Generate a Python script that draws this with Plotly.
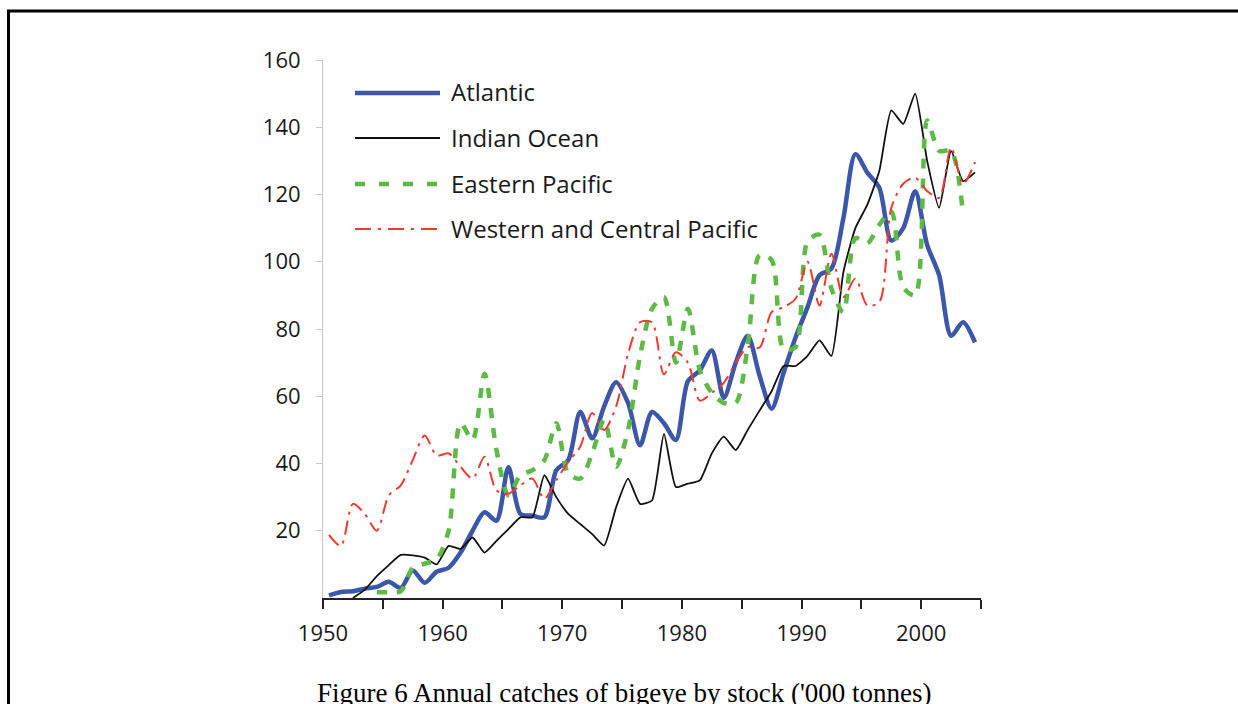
import plotly.graph_objects as go

# Annual bigeye catches by stock ('000 tonnes), 1950-2004
YEARS = list(range(1950, 2005))

ATLANTIC = [
    0.8, 1.8, 2.0, 2.8, 3.3, 4.8, 3.0, 8.2, 4.5, 7.8,
    9.0, 13.5, 20.0, 25.5, 23.0, 38.9, 25.0, 24.5, 24.0, 38.0,
    41.0, 55.3, 47.5, 57.0, 64.2, 58.0, 45.4, 55.3, 52.0, 47.0,
    64.5, 67.7, 73.6, 59.5, 70.0, 78.0, 66.0, 56.3, 67.0, 77.5,
    86.5, 96.0, 98.0, 113.0, 132.0, 126.5, 122.0, 106.3, 110.0, 121.0,
    105.0, 96.0, 78.0, 82.0, 76.0,
]

INDIAN_OCEAN = [
    None, None, 0.0, 2.5, 6.5, 9.8, 12.8, 12.7, 12.0, 10.0,
    15.5, 14.6, 18.0, 13.5, 17.0, 20.5, 24.0, 24.0, 36.5, 30.0,
    25.0, 22.0, 19.0, 15.6, 27.0, 35.5, 28.0, 29.0, 48.8, 33.0,
    34.0, 35.0, 43.0, 48.0, 44.0, 50.0, 55.8, 61.5, 69.0, 69.0,
    72.0, 76.6, 72.0, 97.0, 110.0, 117.0, 127.0, 145.0, 141.0, 150.0,
    130.0, 116.0, 133.0, 124.0, 126.6,
]

EASTERN_PACIFIC = [
    None, None, None, None, 1.7, 1.7, 2.0, 9.0, 10.2, 11.5,
    20.0, 52.0, 47.0, 66.7, 44.0, 30.5, 36.5, 38.0, 41.0, 52.0,
    37.0, 35.5, 43.0, 53.0, 39.0, 50.0, 72.0, 86.0, 89.5, 70.0,
    86.0, 67.7, 61.0, 58.0, 58.0, 75.0, 102.0, 100.5, 74.0, 74.6,
    106.0, 108.0, 92.0, 85.0, 107.0, 105.5, 111.0, 115.0, 92.4, 90.0,
    142.0, 133.0, 133.0, 114.0, None,
]

WESTERN_CENTRAL_PACIFIC = [
    18.8, 15.5, 28.0, 25.0, 20.0, 30.5, 33.5, 41.0, 48.3, 42.4,
    43.0, 39.0, 35.5, 42.0, 32.0, 31.0, 33.5, 35.5, 29.5, 35.0,
    40.5, 45.0, 55.0, 50.0, 57.0, 72.6, 82.0, 82.0, 66.5, 73.1,
    70.0, 58.7, 61.0, 64.0, 70.0, 74.6, 74.5, 85.0, 86.5, 89.0,
    100.0, 87.0, 102.4, 89.5, 95.0, 87.0, 88.0, 116.0, 123.2, 125.0,
    121.0, 119.0, 134.0, 123.2, 129.6,
]

SERIES_NAMES = ["Atlantic", "Indian Ocean", "Eastern Pacific", "Western and Central Pacific"]

X_TICKS = [1950, 1955, 1960, 1965, 1970, 1975, 1980, 1985, 1990, 1995, 2000, 2005]
X_TICK_LABELS = ["1950", "", "1960", "", "1970", "", "1980", "", "1990", "", "2000", ""]
Y_TICKS = [20, 40, 60, 80, 100, 120, 140, 160]
Y_TICK_LABELS = ["20", "40", "60", "80", "100", "120", "140", "160"]

CAPTION = "Figure 6 Annual catches of bigeye by stock ('000 tonnes)"

# page geometry
W, H = 1238, 704
ML, MR, MT, MB = 323, 257, 60, 106
PW, PH = W - ML - MR, H - MT - MB


def fx(px):
    """pixel column -> paper x"""
    return (px - ML) / PW


def fy(py):
    """pixel row -> paper y"""
    return (H - MB - py) / PH


# annual totals are drawn at mid-year
XS = [y + 0.5 for y in YEARS]

STYLES = [
    dict(color="#3C56AA", width=4.5, dash="solid"),
    dict(color="#111111", width=1.8, dash="solid"),
    dict(color="#5DBB45", width=4.5, dash="10px,10px"),
    dict(color="#F03A2E", width=2.0, dash="14px,6px,3px,6px"),
]
SMOOTHING = [0.8, 0.5, 0.8, 0.8]

fig = go.Figure()
for name, values, style, smooth in zip(
    SERIES_NAMES,
    [ATLANTIC, INDIAN_OCEAN, EASTERN_PACIFIC, WESTERN_CENTRAL_PACIFIC],
    STYLES,
    SMOOTHING,
):
    fig.add_trace(
        go.Scatter(
            x=XS,
            y=values,
            name=name,
            mode="lines",
            line=dict(shape="spline", smoothing=smooth, **style),
            connectgaps=False,
            showlegend=False,
            hoverinfo="x+y+name",
        )
    )

FONT = "Open Sans"
shapes = []
annotations = []

# hand-drawn legend with long line samples
legend_rows = [93, 138, 184, 229]
legend_dash = ["solid", "solid", "10px,14px", "16px,7px,3px,7px"]
for name, row, style, dash in zip(SERIES_NAMES, legend_rows, STYLES, legend_dash):
    shapes.append(
        dict(
            type="line", xref="paper", yref="paper",
            x0=fx(355), x1=fx(440), y0=fy(row), y1=fy(row),
            line=dict(color=style["color"], width=style["width"], dash=dash),
        )
    )
    annotations.append(
        dict(
            text=name, xref="paper", yref="paper",
            x=fx(449), y=fy(row - 1), xanchor="left", yanchor="middle",
            showarrow=False, font=dict(family=FONT, size=24, color="#1a1a1a"),
        )
    )

# page frame
shapes.append(
    dict(
        type="rect", xref="paper", yref="paper",
        x0=fx(8.5), x1=fx(1300), y0=fy(11), y1=fy(780),
        line=dict(color="black", width=3), fillcolor="rgba(0,0,0,0)",
    )
)

annotations.append(
    dict(
        text=CAPTION, xref="paper", yref="paper",
        x=fx(624), y=fy(693), xanchor="center", yanchor="middle",
        showarrow=False, font=dict(family="Liberation Serif", size=27, color="black"),
    )
)

fig.update_layout(
    width=W,
    height=H,
    margin=dict(l=ML, r=MR, t=MT, b=MB, pad=0),
    paper_bgcolor="white",
    plot_bgcolor="white",
    showlegend=False,
    shapes=shapes,
    annotations=annotations,
    xaxis=dict(
        range=[1950, 2005],
        tickmode="array",
        tickvals=X_TICKS,
        ticktext=X_TICK_LABELS,
        ticks="outside",
        ticklen=9,
        tickwidth=1.5,
        tickcolor="#222222",
        showline=True,
        linecolor="#222222",
        linewidth=2,
        showgrid=False,
        zeroline=False,
        ticklabelstandoff=6,
        tickfont=dict(family=FONT, size=22, color="#1a1a1a"),
    ),
    yaxis=dict(
        range=[0, 160],
        tickmode="array",
        tickvals=Y_TICKS,
        ticktext=Y_TICK_LABELS,
        ticks="outside",
        ticklen=6,
        tickwidth=1,
        tickcolor="#c8c8c8",
        showline=True,
        linecolor="#c8c8c8",
        linewidth=1,
        showgrid=False,
        zeroline=False,
        ticklabelstandoff=11,
        tickfont=dict(family=FONT, size=22, color="#1a1a1a"),
    ),
)

fig.write_html("out.html")
